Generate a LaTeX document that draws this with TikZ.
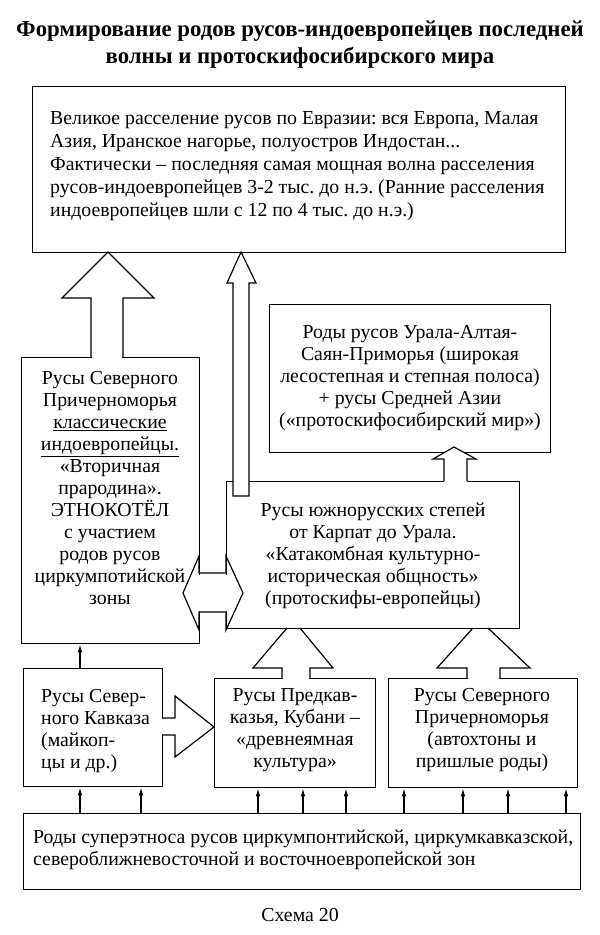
\documentclass[tikz,border=0pt]{standalone}
\usepackage{fontspec}
\setmainfont{Liberation Serif}
\usetikzlibrary{arrows.meta}
\frenchspacing
\begin{document}
\begin{tikzpicture}[x=1pt,y=-1pt,
  box/.style={draw, line width=1.4pt, inner sep=0pt, anchor=north west},
  txt/.style={inner sep=0pt, font=\fontsize{19.8}{22}\selectfont},
  ttl/.style={inner sep=0pt, align=center, font=\bfseries\fontsize{22.8}{27}\selectfont},
  blk/.style={draw, line width=1.2pt, line join=miter},
  erase/.style={fill=white},
  thinarr/.style={draw, line width=1.1pt, -{Latex[length=8pt,width=4.5pt]}}]
\useasboundingbox (0,0) rectangle (600,935);
% title
\node[ttl] (title) at (300,45) {Формирование родов русов-индоевропейцев последней\\волны и протоскифосибирского мира};
% boxes
\node[box, minimum width=533pt, minimum height=166pt] (top) at (32,86) {};
\node[box, minimum width=178pt, minimum height=286pt] (left) at (21,357) {};
\node[box, minimum width=281pt, minimum height=148pt] (ural) at (269,304) {};
\node[box, minimum width=293pt, minimum height=147pt] (mid) at (226,481) {};
\node[box, minimum width=139pt, minimum height=118pt] (kav) at (23,668) {};
\node[box, minimum width=161pt, minimum height=109pt] (pred) at (214,678) {};
\node[box, minimum width=189pt, minimum height=109pt] (pont) at (388,678) {};
\node[box, minimum width=557pt, minimum height=76pt] (bot) at (23,813) {};
% texts
\node[txt, align=left, anchor=west, font=\fontsize{19.8}{23}\selectfont] (topT) at (50,166) {Великое расселение русов по Евразии: вся Европа, Малая\\Азия, Иранское нагорье, полуостров Индостан...\\Фактически – последняя самая мощная волна расселения\\русов-индоевропейцев 3-2 тыс. до н.э. (Ранние расселения\\индоевропейцев шли с 12 по 4 тыс. до н.э.)};
\node[txt, align=center] (leftT) at (110,488) {Русы Северного\\Причерноморья\\\underline{классические}\\\underline{индоевропейцы.}\\«Вторичная\\прародина».\\ЭТНОКОТЁЛ\\с участием\\родов русов\\циркумпотийской\\зоны};
\node[txt, align=center] (uralT) at (410,378) {Роды русов Урала-Алтая-\\Саян-Приморья (широкая\\лесостепная и степная полоса)\\+ русы Средней Азии\\(«протоскифосибирский мир»)};
\node[txt, align=center] (midT) at (373,556) {Русы южнорусских степей\\от Карпат до Урала.\\«Катакомбная культурно-\\историческая общность»\\(протоскифы-европейцы)};
\node[txt, align=left, anchor=west] (kavT) at (41,731) {Русы Север-\\ного Кавказа\\(майкоп-\\цы и др.)};
\node[txt, align=center] (predT) at (295,730) {Русы Предкав-\\казья, Кубани –\\«древнеямная\\культура»};
\node[txt, align=center] (pontT) at (482,730) {Русы Северного\\Причерноморья\\(автохтоны и\\пришлые роды)};
\node[txt, align=left, anchor=west] (botT) at (33,850) {Роды суперэтноса русов циркумпонтийской, циркумкавказской,\\североближневосточной и восточноевропейской зон};
\node[txt] (caption) at (300,915) {Схема 20};
% big arrow: left box -> top box
\fill[erase] (91.7,298) rectangle (122.3,358.5);
\draw[blk] (91,357) -- (91,298) -- (62,298) -- (108,252) -- (154,298) -- (123,298) -- (123,357);
% thin tall arrow: mid box -> top box
\draw[blk, erase] (233,496) -- (233,283) -- (227,283) -- (241,252) -- (256,283) -- (249,283) -- (249,496) -- cycle;
% small arrow: mid -> ural
\fill[erase] (444,482.5) -- (444,459) -- (433,459) -- (454,447) -- (476,459) -- (467,459) -- (467,482.5) -- cycle;
\draw[blk] (444,481) -- (444,459) -- (433,459) -- (454,447) -- (476,459) -- (467,459) -- (467,481);
% double arrow left <-> mid
\fill[erase] (197,574.5) rectangle (228,610.5);
\draw[blk] (199,573) -- (226,573) -- (226,556) -- (243,593) -- (226,630) -- (226,612) -- (199,612) -- (199,630) -- (183,593) -- (199,556) -- cycle;
% kav -> pred
\fill[erase] (160,718.7) rectangle (175,734.3);
\draw[blk] (162,718) -- (175,718) -- (175,696) -- (214,727) -- (175,757) -- (175,735) -- (162,735);
% pred -> mid
\fill[erase] (282.7,668) rectangle (309.3,679.5);
\draw[blk] (282,678) -- (282,668) -- (253,668) -- (287,628);
\draw[blk] (300,628) -- (333,668) -- (310,668) -- (310,678);
% pont -> mid
\fill[erase] (467.7,668) rectangle (499.3,679.5);
\draw[blk] (467,678) -- (467,668) -- (437,668) -- (473,628);
\draw[blk] (488,628) -- (530,668) -- (500,668) -- (500,678);
% thin arrows
\draw[thinarr] (80,0 |- kav.north) -- (80,0 |- left.south);
\foreach \x in {80,141} \draw[thinarr] (\x,0 |- bot.north) -- (\x,0 |- kav.south);
\foreach \x in {258,303,346} \draw[thinarr] (\x,0 |- bot.north) -- (\x,0 |- pred.south);
\foreach \x in {404,463,508,566} \draw[thinarr] (\x,0 |- bot.north) -- (\x,0 |- pont.south);
\end{tikzpicture}
\end{document}
